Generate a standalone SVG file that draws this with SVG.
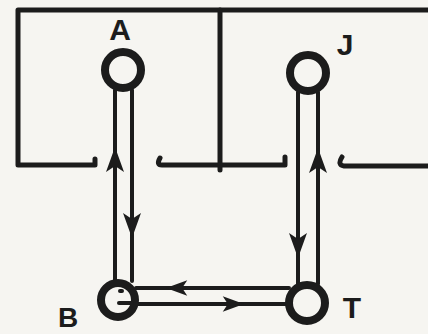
<svg xmlns="http://www.w3.org/2000/svg" width="428" height="334" viewBox="0 0 428 334">
<style>
.wall{fill:none;stroke:#1c1c1c;stroke-width:5;stroke-linecap:round;stroke-linejoin:round}
.line{fill:none;stroke:#1c1c1c;stroke-width:4;stroke-linecap:round}
.node{fill:none;stroke:#1c1c1c;stroke-width:8}
.lbl{font-family:"Liberation Sans",Arial,sans-serif;font-weight:bold;font-size:30px;fill:#1c1c1c;text-anchor:middle}
.ah{fill:#1c1c1c}
</style>
<defs>
<path id="arrUp" d="M0,0 L9,25 L0,19 L-9,25 Z"/>
</defs>
<rect width="428" height="334" fill="#f6f5f1"/>
<g id="walls">
<path class="wall" d="M428,10 L18,10 L18,165 L95,165 L95,159"/>
<path class="wall" d="M220,10 L220,170"/>
<path class="wall" d="M160,158 Q156,165 162,165 L285,165 L285,157"/>
<path class="wall" d="M342,157 Q337,165 344,166 L428,166"/>
</g>
<g id="connectors">
<line class="line" x1="115" y1="90" x2="115" y2="281"/>
<line class="line" x1="132" y1="90" x2="132" y2="281"/>
<line class="line" x1="298" y1="92" x2="298" y2="284"/>
<line class="line" x1="318" y1="92" x2="318" y2="284"/>
<line class="line" x1="136" y1="288" x2="289" y2="288"/>
<line class="line" x1="136" y1="304" x2="289" y2="304"/>
<use class="ah" href="#arrUp" transform="translate(115,147)"/>
<use class="ah" href="#arrUp" transform="translate(132,238) rotate(180)"/>
<use class="ah" href="#arrUp" transform="translate(298,258) rotate(180)"/>
<use class="ah" href="#arrUp" transform="translate(318,148)"/>
<use class="ah" href="#arrUp" transform="translate(166,288) rotate(-90) scale(0.85)"/>
<use class="ah" href="#arrUp" transform="translate(244,304) rotate(90) scale(0.85)"/>
</g>
<g id="node-A">
<circle class="node" cx="123" cy="70" r="18"/>
<text class="lbl" x="120" y="40">A</text>
</g>
<g id="node-J">
<circle class="node" cx="308" cy="73" r="18"/>
<text class="lbl" x="345" y="55">J</text>
</g>
<g id="node-B">
<circle class="node" cx="118" cy="300" r="17"/>
<line class="line" x1="119" y1="303" x2="132" y2="303" stroke-width="3"/>
<line class="line" x1="120" y1="291" x2="122" y2="291" stroke-width="3"/>
<text class="lbl" x="68" y="327" style="font-size:28px">B</text>
</g>
<g id="node-T">
<circle class="node" cx="307" cy="303" r="18"/>
<text class="lbl" x="352" y="318">T</text>
</g>
</svg>
